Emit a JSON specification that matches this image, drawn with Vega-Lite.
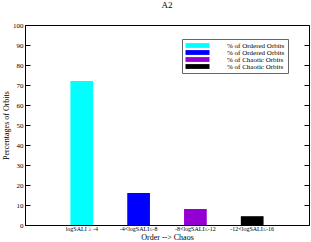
{
  "$schema": "https://vega.github.io/schema/vega-lite/v6.json",
  "autosize": {"type": "none"},
  "padding": {"left": 25, "top": 25, "right": 2, "bottom": 17},
  "width": 284,
  "height": 200,
  "title": {"text": "A2", "font": "Liberation Serif", "fontSize": 9, "fontWeight": "normal", "color": "#000", "anchor": "middle", "offset": 11},
  "config": {
    "view": {"stroke": "#000", "strokeWidth": 1},
    "font": "Liberation Serif"
  },
  "data": {"values": [
    {"range": "logSALI ≥ -4", "pct": 72, "key": "a"},
    {"range": "-4<logSALI≤-8", "pct": 16, "key": "b"},
    {"range": "-8<logSALI≤-12", "pct": 8, "key": "c"},
    {"range": "-12<logSALI≤-16", "pct": 4.4, "key": "d"}
  ]},
  "layer": [
    {
      "mark": {"type": "bar"},
      "encoding": {
        "x": {"field": "range", "type": "nominal", "sort": null,
          "scale": {"paddingInner": 0.6, "paddingOuter": 0.8},
          "axis": {"title": "Order --> Chaos", "labelAngle": 0, "labelFont": "Liberation Serif", "labelFontSize": 6, "labelColor": "#000", "ticks": false, "labelPadding": 0, "domainColor": "#000", "titleFont": "Liberation Serif", "titleFontSize": 8, "titleFontWeight": "normal", "titleColor": "#000", "titlePadding": 2}},
        "y": {"field": "pct", "type": "quantitative",
          "scale": {"domain": [0, 100], "nice": false},
          "axis": {"title": "Percentages of Orbits", "values": [0,10,20,30,40,50,60,70,80,90,100], "grid": false, "tickSize": -5, "tickColor": "#000", "domainColor": "#000", "labelFont": "Liberation Serif", "labelFontSize": 7, "labelColor": "#000", "labelPadding": 7, "titleFont": "Liberation Serif", "titleFontSize": 8, "titleFontWeight": "normal", "titleColor": "#000", "titlePadding": 2}},
        "color": {"field": "key", "type": "nominal",
          "scale": {"domain": ["a","b","c","d"], "range": ["#00ffff","#0000ff","#9400d3","#000000"]},
          "legend": {"title": null, "orient": "none", "legendX": 157, "legendY": 14,
            "labelExpr": "datum.label == 'a' || datum.label == 'b' ? '% of Ordered Orbits' : '% of Chaotic Orbits'",
            "symbolType": "M-4,-0.8H4V0.8H-4Z", "symbolSize": 36, "symbolStrokeWidth": 0, "symbolOffset": 9,
            "labelFont": "Liberation Serif", "labelFontSize": 7, "labelFontWeight": "normal", "labelColor": "#000", "labelOffset": 26,
            "rowPadding": -1, "padding": 3, "strokeColor": "#666", "fillColor": "#fff"}}
      }
    },
    {
      "mark": {"type": "bar", "opacity": 0},
      "encoding": {
        "x": {"field": "range", "type": "nominal", "sort": null},
        "y": {"field": "pct", "type": "quantitative",
          "axis": {"orient": "right", "title": null, "labels": false, "domain": false, "grid": false, "values": [0,10,20,30,40,50,60,70,80,90,100], "tickSize": -5, "tickColor": "#000"}}
      }
    }
  ],
  "resolve": {"axis": {"y": "independent"}}
}
